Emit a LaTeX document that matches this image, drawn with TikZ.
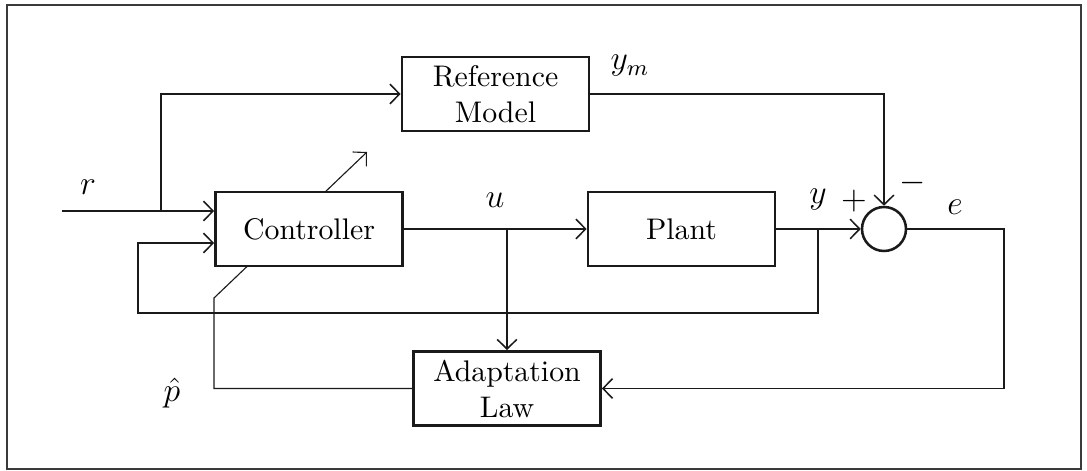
\documentclass[tikz,border=0pt]{standalone}
\usetikzlibrary{arrows.meta, positioning, calc, backgrounds}
\definecolor{cframe}{HTML}{3A3A3A}
\definecolor{cline}{HTML}{1A1A1A}
\tikzset{
  every picture/.style={line width=0.55pt, draw=cline},
  block/.style={draw=cline, fill=white, line width=0.9pt, align=center, minimum width=2.34cm, minimum height=0.93cm, inner sep=0pt, font=\fontsize{10.6}{12.8}\selectfont},
  arrow/.style={-{Straight Barb[length=3.4pt, width=7pt]}, draw=cline},
  sumnode/.style={circle, draw=cline, fill=white, line width=0.9pt, minimum size=0.55cm, inner sep=0pt},
  sig/.style={font=\fontsize{12}{14}\selectfont},
}

\begin{document}
\begin{tikzpicture}[x=0.0125cm, y=-0.0125cm]
  \useasboundingbox (0,0) rectangle (1087,471);
  \draw[cframe, line width=0.8pt] (7,5) rectangle (1081,469);

  % blocks
  \node[block] (refmodel) at (495.5,94) {Reference\\Model};
  \node[block] (ctrl) at (309,229) {Controller};
  \node[block] (plant) at (681.5,229) {Plant};
  \node[block] (adapt) at (507,388.5) {Adaptation\\Law};
  \node[sumnode] (sum) at (884,229) {};

  % branch points and corners
  \coordinate (rin) at (62,211);
  \coordinate (rsplit) at (161,211);
  \coordinate (utap) at (507,229);
  \coordinate (ytap) at (818,229);
  \coordinate (fbin) at (138,243);
  \coordinate (fblow) at (138,313);
  \coordinate (ecorner) at (1004,388.5);
  \coordinate (pkink) at (214,298);
  \coordinate (ptip) at (367,152);

  % adjustment arrow through the controller
  \begin{scope}[on background layer]
    \draw[arrow] (adapt.west) -| (pkink) -- (ptip);
  \end{scope}

  % signal paths
  \draw (rin) -- (rsplit);
  \draw[arrow] (rsplit) -- (ctrl.west |- rsplit);
  \draw[arrow] (rsplit) |- (refmodel.west);
  \draw[arrow] (ctrl.east) -- (plant.west);
  \draw[arrow] (utap) -- (adapt.north);
  \draw[arrow] (plant.east) -- (sum.west);
  \draw[arrow] (refmodel.east) -| (sum.north);
  \draw[arrow] (ytap) |- (fblow) |- (ctrl.west |- fbin);
  \draw[arrow] (sum.east) -| (ecorner) -- (adapt.east);

  % labels
  \node[sig] (lr) at (88,187) {$r$};
  \node[sig] (lu) at (495,200) {$u$};
  \node[sig] (lym) at (630,66) {$y_m$};
  \node[sig] (ly) at (818,200) {$y$};
  \node[sig] (lplus) at (854,201) {$+$};
  \node[sig] (lminus) at (913,183) {$-$};
  \node[sig] (le) at (955,207) {$e$};
  \node[sig] (lp) at (172,393) {$\hat{p}$};
\end{tikzpicture}
\end{document}
